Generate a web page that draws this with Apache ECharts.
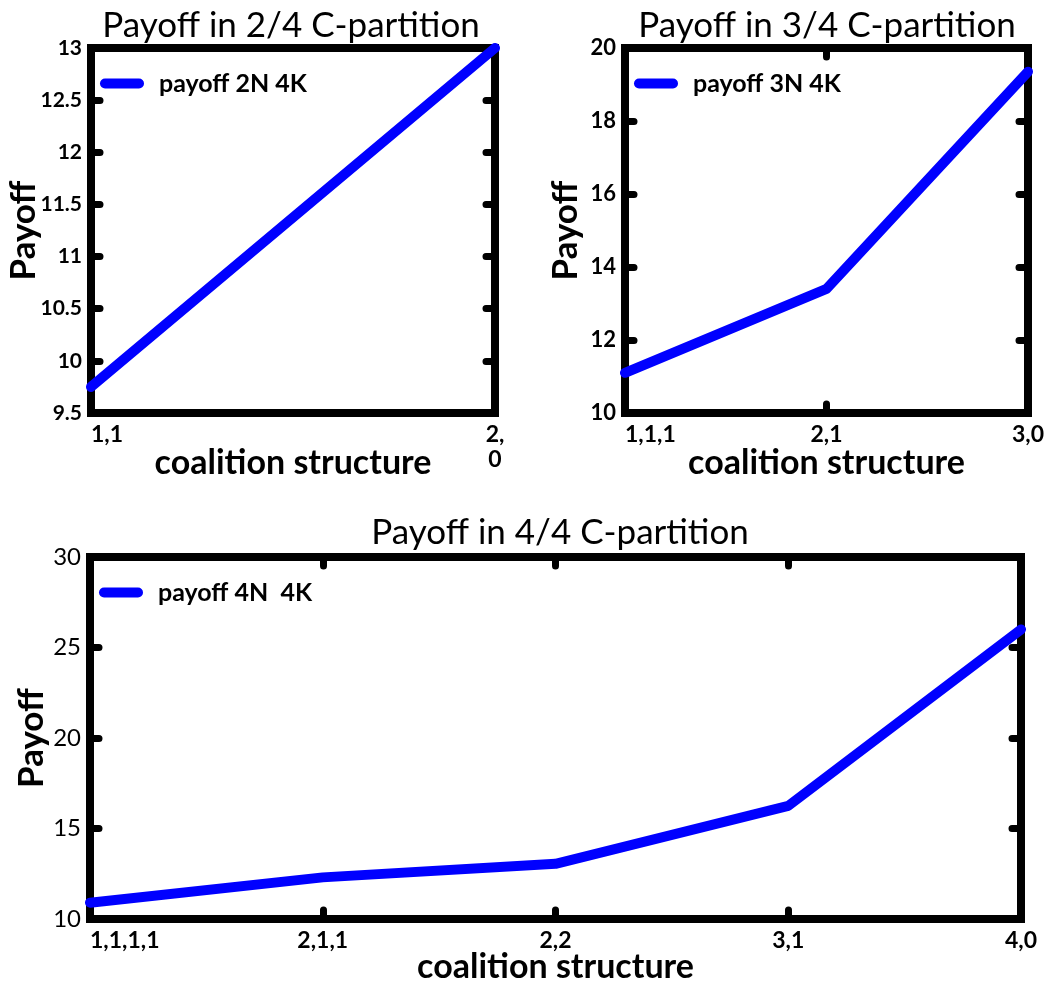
<!DOCTYPE html>
<html>
<head>
<meta charset="utf-8">
<script src="https://cdn.jsdelivr.net/npm/echarts@6/dist/echarts.min.js"></script>
<style>html,body{margin:0;padding:0;background:#fff;}#c{width:1052px;height:985px;}</style>
</head>
<body>
<div id="c"></div>
<script>
// ---- data ----
const cats1 = ['1,1', '2,0'];
const vals1 = [9.75, 13.0];
const cats2 = ['1,1,1', '2,1', '3,0'];
const vals2 = [11.1, 13.4, 19.35];
const cats3 = ['1,1,1,1', '2,1,1', '2,2', '3,1', '4,0'];
const vals3 = [10.9, 12.3, 13.05, 16.25, 26.0];
const titles = ['Payoff in 2/4 C-partition', 'Payoff in 3/4 C-partition', 'Payoff in 4/4 C-partition'];
const seriesNames = ['payoff 2N 4K', 'payoff 3N 4K', 'payoff 4N  4K'];
const xName = 'coalition structure';
const yName = 'Payoff';

const FONT = 'Lato';
const chart = echarts.init(document.getElementById('c'));

const grids = [
  {left: 91, top: 48, width: 404, height: 365},
  {left: 625, top: 48, width: 403, height: 365},
  {left: 90, top: 557, width: 931, height: 364}
];
const yCfg = [
  {min: 9.5, max: 13, interval: 0.5, fs: 21, fw: 'bold', gap: 50},
  {min: 10, max: 20, interval: 2, fs: 22, fw: 'bold', gap: 42},
  {min: 10, max: 30, interval: 5, fs: 24, fw: 'normal', gap: 41}
];
const catsAll = [cats1, cats2, cats3];
const valsAll = [vals1, vals2, vals3];

const tick = {show: true, inside: true, length: 9, lineStyle: {color: '#000', width: 7, cap: 'round'}};
const xAxes = [], yAxes = [], series = [], legends = [];
grids.forEach((g, i) => {
  g.show = true; g.borderColor = '#000'; g.borderWidth = 8; g.backgroundColor = 'transparent';
  g.containLabel = false;
  xAxes.push({
    type: 'category', gridIndex: i, data: catsAll[i], boundaryGap: false, position: 'bottom',
    axisLine: {show: false}, axisTick: tick, splitLine: {show: false},
    axisLabel: {
      color: '#000', fontFamily: FONT, fontWeight: 'bold', fontSize: 23, margin: 9,
      alignMinLabel: 'left',
      formatter: v => (i === 0 && v === '2,0') ? '2,\n0' : v,
      lineHeight: 25
    },
    name: xName, nameLocation: 'middle', nameGap: i === 2 ? 31 : 33, nameMoveOverlap: false,
    nameTextStyle: {color: '#000', fontFamily: FONT, fontWeight: 'bold', fontSize: 34}
  });
  xAxes.push({
    type: 'category', gridIndex: i, data: catsAll[i], boundaryGap: false, position: 'top',
    axisLine: {show: false}, axisTick: tick, axisLabel: {show: false}, splitLine: {show: false}
  });
  const yc = yCfg[i];
  yAxes.push({
    type: 'value', gridIndex: i, min: yc.min, max: yc.max, interval: yc.interval, position: 'left',
    axisLine: {show: false}, axisTick: tick, splitLine: {show: false},
    axisLabel: {color: '#000', fontFamily: FONT, fontWeight: yc.fw, fontSize: yc.fs, margin: 9},
    name: yName, nameLocation: 'middle', nameGap: yc.gap, nameRotate: 90, nameMoveOverlap: false,
    nameTextStyle: {color: '#000', fontFamily: FONT, fontWeight: 'bold', fontSize: 35}
  });
  yAxes.push({
    type: 'value', gridIndex: i, min: yc.min, max: yc.max, interval: yc.interval, position: 'right',
    axisLine: {show: false}, axisTick: tick, axisLabel: {show: false}, splitLine: {show: false}
  });
  series.push({
    type: 'line', name: seriesNames[i], xAxisIndex: i * 2, yAxisIndex: i * 2,
    data: valsAll[i], symbol: 'none', clip: false, z: 5,
    lineStyle: {color: '#0000ff', width: 10, cap: 'round', join: 'round'},
    itemStyle: {color: '#0000ff'}
  });
  legends.push({
    data: [seriesNames[i]],
    left: g.left + 9, top: g.top + 23, padding: 0,
    icon: 'path://M5,0 L39,0 A5,5 0 0 1 39,10 L5,10 A5,5 0 0 1 5,0 Z',
    itemWidth: 44, itemHeight: 10,
    selectedMode: false,
    textStyle: {color: '#000', fontFamily: FONT, fontWeight: 'bold', fontSize: 25, padding: [0, 0, 0, 10]}
  });
});

const titleComps = [
  {text: titles[0], left: 291, top: 8},
  {text: titles[1], left: 827, top: 8},
  {text: titles[2], left: 560, top: 515}
].map(t => ({
  text: t.text, left: t.left, top: t.top, textAlign: 'center', padding: 0,
  textStyle: {color: '#000', fontFamily: FONT, fontWeight: 'normal', fontSize: 35}
}));

chart.setOption({
  animation: false,
  backgroundColor: '#fff',
  title: titleComps,
  legend: legends,
  grid: grids,
  xAxis: xAxes,
  yAxis: yAxes,
  series: series
});
</script>
</body>
</html>
